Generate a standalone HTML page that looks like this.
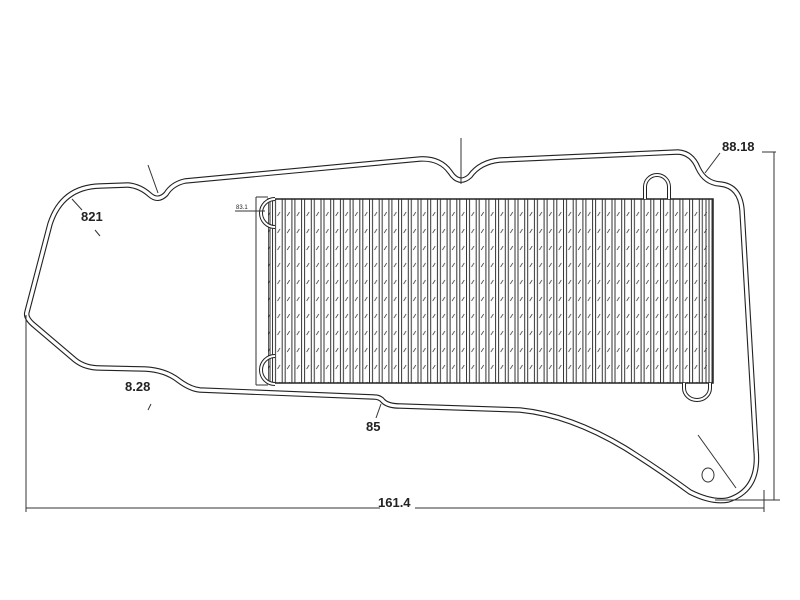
<!DOCTYPE html>
<html><head><meta charset="utf-8"><style>
html,body{margin:0;padding:0;background:#fff;width:800px;height:600px;overflow:hidden}
svg{display:block}
text{font-family:"Liberation Sans",sans-serif;font-weight:bold;fill:#222}
</style></head><body>
<svg width="800" height="600" viewBox="0 0 800 600" xmlns="http://www.w3.org/2000/svg">
<defs>
<pattern id="h" x="272" y="0" width="9.7" height="17" patternUnits="userSpaceOnUse">
<line x1="0.5" y1="0" x2="0.5" y2="17" stroke="#333" stroke-width="1"/>
<line x1="3.5" y1="0" x2="3.5" y2="17" stroke="#333" stroke-width="1"/>
<line x1="5.5" y1="12" x2="8" y2="8" stroke="#444" stroke-width="0.8"/>
</pattern>
<g id="gk">
<path d="M27,312 L50,224 Q62,187 100,186 L128,185 Q140,186 150,195 Q158,202 166,194 Q172,184 185,181 L420,159 Q440,158 450,172 Q459,186 470,176 Q480,162 500,160 L678,152 Q692,153 698,168 Q705,183 720,184 Q740,186 742,210 L756,450 Q760,490 728,500 Q712,503 690,492 Q660,470 625,448 Q570,415 520,410 L400,406 Q388,406 383,401 Q380,397 374,397 L200,390 Q190,389 178,380 Q165,370 145,369 L100,368 Q85,368 75,360 L35,326 Q25,318 27,312 Z" fill="none"/>
</g>
</defs>
<use href="#gk" stroke="#222" stroke-width="5.5"/>
<use href="#gk" stroke="#fff" stroke-width="3.3"/>

<rect x="268" y="199" width="445" height="184" fill="url(#h)" stroke="#222" stroke-width="1.5"/>
<rect x="258" y="199" width="10" height="184" fill="#fff" stroke="none"/>
<line x1="256" y1="197" x2="268" y2="197" stroke="#333"/>
<line x1="256" y1="385" x2="268" y2="385" stroke="#333"/>
<line x1="256" y1="197" x2="256" y2="385" stroke="#333"/>
<line x1="270" y1="199" x2="270" y2="383" stroke="#333"/>
<line x1="706" y1="199" x2="706" y2="383" stroke="#333"/>
<path d="M275,199 A14,14 0 0 0 275,227" fill="none" stroke="#222" stroke-width="4"/>
<path d="M275,199 A14,14 0 0 0 275,227" fill="none" stroke="#fff" stroke-width="2"/>
<path d="M275,356 A14,14 0 0 0 275,384" fill="none" stroke="#222" stroke-width="4"/>
<path d="M275,356 A14,14 0 0 0 275,384" fill="none" stroke="#fff" stroke-width="2"/>
<path d="M645,199 L645,187 A12,12 0 0 1 669,187 L669,199" fill="none" stroke="#222" stroke-width="4"/>
<path d="M645,199 L645,187 A12,12 0 0 1 669,187 L669,199" fill="none" stroke="#fff" stroke-width="2"/>
<path d="M684,383 L684,388 A13,12 0 0 0 710,388 L710,383" fill="none" stroke="#222" stroke-width="4"/>
<path d="M684,383 L684,388 A13,12 0 0 0 710,388 L710,383" fill="none" stroke="#fff" stroke-width="2"/>
<ellipse cx="708" cy="475" rx="6" ry="7" fill="none" stroke="#333"/>

<g stroke="#333" stroke-width="1" fill="none">
<line x1="148" y1="165" x2="158" y2="193"/>
<line x1="461" y1="138" x2="461" y2="184"/>
<line x1="720" y1="153" x2="705" y2="173"/>
<line x1="72" y1="199" x2="82" y2="210"/>
<line x1="95" y1="230" x2="100" y2="236"/>
<line x1="148" y1="410" x2="151" y2="404"/>
<line x1="381" y1="404" x2="376" y2="418"/>
<line x1="698" y1="435" x2="736" y2="488"/>
<line x1="235" y1="211" x2="265" y2="211"/>
<line x1="26" y1="315" x2="26" y2="512"/>
<line x1="26" y1="508" x2="380" y2="508"/>
<line x1="415" y1="508" x2="764" y2="508"/>
<line x1="762" y1="152" x2="776" y2="152"/>
<line x1="715" y1="500" x2="780" y2="500"/>
<line x1="774" y1="152" x2="774" y2="500"/>
<line x1="764" y1="490" x2="764" y2="512"/>
</g>
<text x="236" y="209" font-size="6" style="font-weight:normal">83.1</text>
<text x="81" y="221" font-size="13">821</text>
<text x="125" y="391" font-size="13">8.28</text>
<text x="366" y="431" font-size="13">85</text>
<text x="722" y="151" font-size="13">88.18</text>
<text x="378" y="507" font-size="13">161.4</text>
</svg>
</body></html>
